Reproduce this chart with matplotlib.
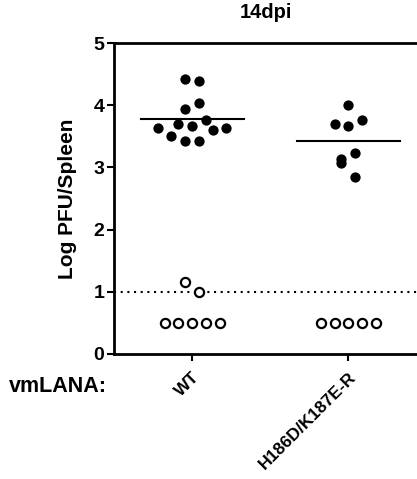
import numpy as np
import matplotlib
matplotlib.use('Agg')
import matplotlib.pyplot as plt

plt.rcParams['font.family'] = ['Liberation Sans', 'DejaVu Sans']
plt.rcParams['font.weight'] = 'bold'

groups = ['WT', 'H186D/K187E-R']
title = '14dpi'
ylabel = 'Log PFU/Spleen'
row_label = 'vmLANA:'

# detected titers (filled)
wt_pos = [4.43, 4.39, 4.03, 3.94, 3.77, 3.70, 3.67, 3.64, 3.60, 3.64, 3.50, 3.42, 3.42]
mut_pos = [4.00, 3.70, 3.77, 3.66, 3.23, 3.14, 3.07, 2.85]
# below / at detection limit (open)
wt_neg = [1.16, 0.99, 0.5, 0.5, 0.5, 0.5, 0.5]
mut_neg = [0.5, 0.5, 0.5, 0.5, 0.5]
medians = [3.78, 3.42]
limit = 1.0

# horizontal scatter slots (in marker widths)
wt_pos_slot = [-0.5, 0.5, 0.5, -0.5, 1, -1, 0, -2.5, 1.5, 2.5, -1.5, -0.5, 0.5]
mut_pos_slot = [0, -1, 1, 0, 0.5, -0.5, -0.5, 0.5]
wt_neg_slot = [-0.5, 0.5, -2, -1, 0, 1, 2]
mut_neg_slot = [-2, -1, 0, 1, 2]

step = 0.088

fig = plt.figure(figsize=(4.17, 4.79), dpi=100)
ax = fig.add_axes([0.2734, 0.261, 0.7266, 0.649])

ax.axhline(limit, color='k', lw=1.5, ls=(0, (1, 2.2)), zorder=1)

for i, (pos, pslot, neg, nslot) in enumerate([(wt_pos, wt_pos_slot, wt_neg, wt_neg_slot),
                                              (mut_pos, mut_pos_slot, mut_neg, mut_neg_slot)]):
    xc = i + 1
    ax.plot(xc + np.array(pslot) * step, pos, 'o', color='k', ms=7.4, mew=0, zorder=3)
    ax.plot(xc + np.array(nslot) * step, neg, 'o', mfc='white', mec='k', ms=6.6, mew=1.6, zorder=3)
    ax.plot([xc - 0.33, xc + 0.33], [medians[i], medians[i]], color='k', lw=1.5, zorder=2)

ax.set_xlim(0.5, 2.44)
ax.set_ylim(0, 5)
ax.set_yticks(np.arange(0, 6, 1))
ax.set_xticks([1, 2])
ax.set_xticklabels(groups, rotation=45, ha='right', rotation_mode='anchor', fontsize=12.5)
ax.tick_params(axis='y', labelsize=14, width=1.5, length=5, pad=2)
ax.tick_params(axis='x', width=1.5, length=5, pad=6)
for s in ['left', 'bottom', 'top']:
    ax.spines[s].set_linewidth(2)
ax.spines['right'].set_visible(False)

ax.set_ylabel(ylabel, fontsize=15, fontweight='bold', labelpad=12)
ax.set_title(title, fontsize=14.5, fontweight='bold', pad=18)
fig.text(0.022, 0.193, row_label, fontsize=15.5, fontweight='bold', va='center', ha='left')

fig.savefig('out.png', dpi=100)
